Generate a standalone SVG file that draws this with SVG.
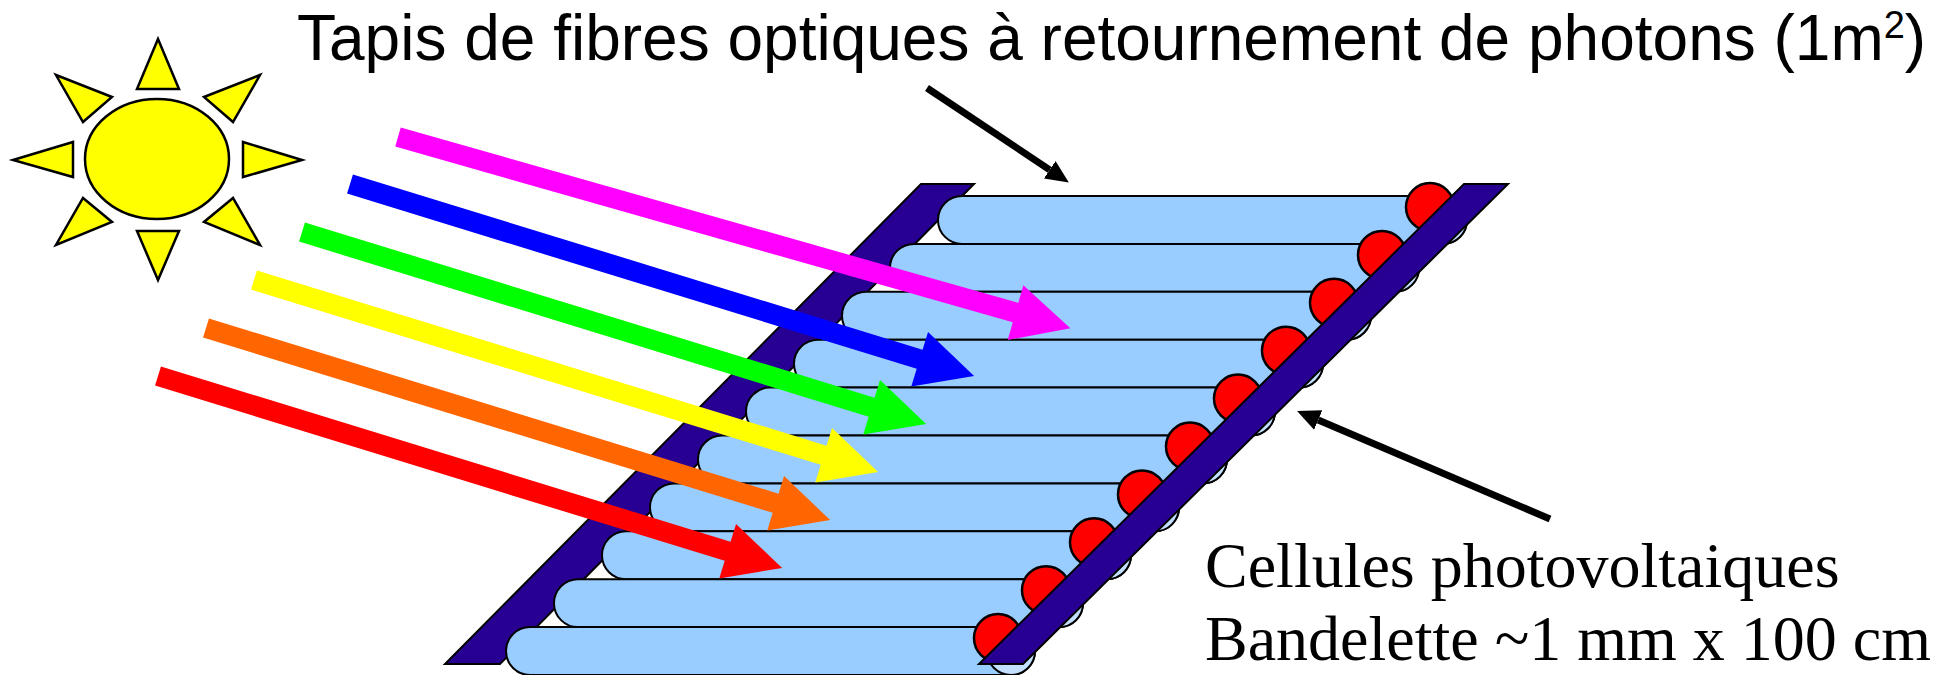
<svg xmlns="http://www.w3.org/2000/svg" xmlns:xlink="http://www.w3.org/1999/xlink" width="1946" height="675" viewBox="0 0 1946 675">
  <style>
    .sun { fill: #ffff00; stroke: #000; stroke-width: 2.5; stroke-linejoin: miter; }
    .strip { fill: #270093; stroke: #000; stroke-width: 2; }
    .fiber { fill: #99ccff; stroke: #000; stroke-width: 2; }
    .fiber-end { fill: #c2dfff; stroke: #000; stroke-width: 2; }
    .cell { fill: #ff0000; stroke: #000; stroke-width: 2.5; }
    .pointer { fill: none; stroke: #000; stroke-width: 7; marker-end: url(#head); }
    .sans { font-family: "Liberation Sans", Arial, sans-serif; font-size: 64px; fill: #000; }
    .serif { font-family: "Liberation Serif", "Times New Roman", serif; font-size: 64px; fill: #000; }
  </style>
  <defs>
    <marker id="head" markerUnits="userSpaceOnUse" markerWidth="23" markerHeight="23" viewBox="0 0 23 23" refX="0" refY="11.5" orient="auto">
      <path d="M0,1 L23,11.5 L0,22 Z" fill="#000"/>
    </marker>
    <!-- one optical fibre: a rounded tube with a lighter end cap -->
    <g id="fiber-shape">
      <rect class="fiber" x="938" y="196" width="529" height="47.9" rx="24" ry="24"/>
      <ellipse class="fiber-end" cx="1443" cy="220" rx="24" ry="24"/>
    </g>
    <!-- light ray arrow, drawn along +x from its tail -->
    <path id="ray" d="M0,-10 H596 V-28.5 L653,0 L596,28.5 V10 H0 Z"/>
    <path id="ray-long" d="M0,-10 H642 V-28.5 L699,0 L642,28.5 V10 H0 Z"/>
  </defs>

  <rect width="1946" height="675" fill="#fff"/>

  <!-- sun -->
  <g id="sun">
    <polygon class="sun" points="158,39 137,89 179,89"/>
    <polygon class="sun" points="137,231 179,231 158,280"/>
    <polygon class="sun" points="13,160 73,142 73,177"/>
    <polygon class="sun" points="243,142 302,160 243,177"/>
    <polygon class="sun" points="56,75 112,97 83,122"/>
    <polygon class="sun" points="260,75 204,97 233,122"/>
    <polygon class="sun" points="83,198 112,222 56,245"/>
    <polygon class="sun" points="233,198 204,222 260,245"/>
    <ellipse class="sun" cx="157" cy="159" rx="72" ry="60"/>
  </g>

  <!-- left holder strip -->
  <g id="left-strip">
    <polygon class="strip" points="921,184 974,184 500,664 445,664"/>
  </g>

  <!-- fibre mat -->
  <g id="fiber-mat">
    <g id="fiber-1"><use xlink:href="#fiber-shape"/></g>
    <g id="fiber-2"><use xlink:href="#fiber-shape" transform="translate(-48,47.9)"/></g>
    <g id="fiber-3"><use xlink:href="#fiber-shape" transform="translate(-96,95.8)"/></g>
    <g id="fiber-4"><use xlink:href="#fiber-shape" transform="translate(-144,143.7)"/></g>
    <g id="fiber-5"><use xlink:href="#fiber-shape" transform="translate(-192,191.6)"/></g>
    <g id="fiber-6"><use xlink:href="#fiber-shape" transform="translate(-240,239.5)"/></g>
    <g id="fiber-7"><use xlink:href="#fiber-shape" transform="translate(-288,287.4)"/></g>
    <g id="fiber-8"><use xlink:href="#fiber-shape" transform="translate(-336,335.3)"/></g>
    <g id="fiber-9"><use xlink:href="#fiber-shape" transform="translate(-384,383.2)"/></g>
    <g id="fiber-10"><use xlink:href="#fiber-shape" transform="translate(-432,431.1)"/></g>
  </g>

  <!-- photovoltaic cells at the fibre ends -->
  <g id="cells">
    <circle class="cell" cx="1430" cy="207" r="24"/>
    <circle class="cell" cx="1382" cy="254.9" r="24"/>
    <circle class="cell" cx="1334" cy="302.8" r="24"/>
    <circle class="cell" cx="1286" cy="350.7" r="24"/>
    <circle class="cell" cx="1238" cy="398.6" r="24"/>
    <circle class="cell" cx="1190" cy="446.5" r="24"/>
    <circle class="cell" cx="1142" cy="494.4" r="24"/>
    <circle class="cell" cx="1094" cy="542.3" r="24"/>
    <circle class="cell" cx="1046" cy="590.2" r="24"/>
    <circle class="cell" cx="998" cy="638.1" r="24"/>
  </g>

  <!-- right holder strip -->
  <g id="right-strip">
    <polygon class="strip" points="1464,184 1508,184 1023,664 979,664"/>
  </g>

  <!-- incoming light rays -->
  <g id="rays">
    <use xlink:href="#ray-long" fill="#ff00ff" transform="translate(398,137) rotate(15.87)"/>
    <use xlink:href="#ray" fill="#0000ff" transform="translate(350,184) rotate(17.1)"/>
    <use xlink:href="#ray" fill="#00ff00" transform="translate(302,232) rotate(17.1)"/>
    <use xlink:href="#ray" fill="#ffff00" transform="translate(254,280) rotate(17.1)"/>
    <use xlink:href="#ray" fill="#ff6600" transform="translate(206,328) rotate(17.1)"/>
    <use xlink:href="#ray" fill="#ff0000" transform="translate(158,376) rotate(17.1)"/>
  </g>

  <!-- label pointers -->
  <g id="connectors">
    <line class="pointer" x1="927" y1="88" x2="1049.7" y2="169.8"/>
    <line class="pointer" x1="1550" y1="519" x2="1318.2" y2="420"/>
  </g>

  <!-- labels -->
  <g id="title">
    <text class="sans" x="297" y="60">Tapis de fibres optiques à retournement de photons (1m<tspan font-size="38" dy="-22">2</tspan><tspan dy="22">)</tspan></text>
  </g>
  <g id="cell-label">
    <text class="serif" x="1205" y="587">Cellules photovoltaiques</text>
    <text class="serif" x="1205" y="660">Bandelette ~1 mm x 100 cm</text>
  </g>
</svg>
